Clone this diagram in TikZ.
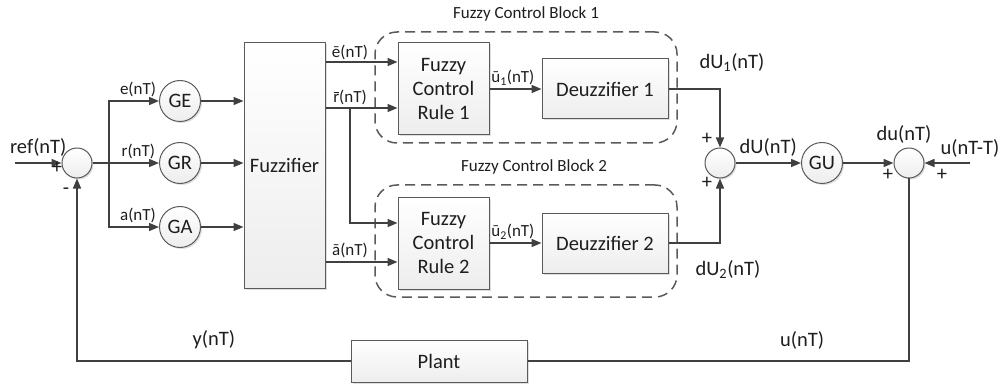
\documentclass[tikz,border=0pt]{standalone}
\usepackage{fontspec}
\setmainfont{Carlito}
\usetikzlibrary{arrows.meta,positioning,calc,shadows}
\definecolor{linegray}{HTML}{404040}
\definecolor{boxgray}{HTML}{5A5A5A}
\definecolor{txtgray}{HTML}{1E1E1E}
\newcommand{\bigtxt}{\fontsize{20.5}{24}\selectfont}
\newcommand{\smalltxt}{\fontsize{17}{20}\selectfont}
\newcommand{\rbar}{\makebox[0pt][l]{\hspace{0.04em}\rule[0.6em]{0.3em}{0.055em}}r}

\begin{document}
\begin{tikzpicture}[x=1pt,y=-1pt,>={Triangle[length=10pt,width=8pt]},
  wire/.style={draw=linegray,line width=1.5pt},
  blk/.style={draw=boxgray,line width=1pt,top color=white,bottom color=gray!14,
    drop shadow={shadow xshift=1.5pt,shadow yshift=-1.5pt,opacity=.25},
    font=\bigtxt,text=txtgray,align=center,inner sep=0pt},
  gain/.style={blk,circle,minimum size=41pt},
  sumnode/.style={blk,circle,minimum size=30pt},
  blockframe/.style={draw=boxgray,line width=1.5pt,dash pattern=on 10pt off 6pt,rounded corners=22pt},
  lbl/.style={font=\bigtxt,text=txtgray,inner sep=1pt},
  slbl/.style={font=\smalltxt,text=txtgray,inner sep=1pt},
  sgn/.style={font=\bigtxt,text=txtgray,inner sep=0pt}]
\useasboundingbox (0,0) rectangle (1007,385);

\node[blockframe,minimum width=302pt,minimum height=111pt] (blk1) at (526,87.5) {};
\node[blockframe,minimum width=302pt,minimum height=112pt] (blk2) at (526,241) {};
\node[slbl,above=9pt of blk1] (tit1) {Fuzzy Control Block 1};
\node[slbl,above=9pt of blk2,xshift=8pt] (tit2) {Fuzzy Control Block 2};

\node[sumnode] (sum1) at (77,163) {};
\node[gain] (GE) at (180,101) {GE};
\node[gain] (GR) at (180,163) {GR};
\node[gain] (GA) at (180,227) {GA};
\node[blk,minimum width=81pt,minimum height=245pt] (fuzz) at (284.5,165.5) {Fuzzifier};
\node[blk,minimum width=91pt,minimum height=92pt] (rule1) at (443.5,89) {Fuzzy\\Control\\Rule 1};
\node[blk,minimum width=91pt,minimum height=92pt] (rule2) at (443.5,243) {Fuzzy\\Control\\Rule 2};
\node[blk,minimum width=126pt,minimum height=60pt] (deuz1) at (605,89) {Deuzzifier 1};
\node[blk,minimum width=126pt,minimum height=60pt] (deuz2) at (605,243) {Deuzzifier 2};
\node[sumnode] (sum3) at (720,163) {};
\node[gain] (GU) at (822,163) {GU};
\node[sumnode] (sum4) at (909,163) {};
\node[blk,minimum width=176pt,minimum height=42pt] (plant) at (439,361) {Plant};

\coordinate (refin) at (15,163);
\coordinate (uin) at (970,163);
\coordinate (br) at (109,163);
\coordinate (ein) at ([yshift=27pt]rule1.west);
\coordinate (rin) at ([yshift=-19pt]rule1.west);
\coordinate (rin2) at ([yshift=20pt]rule2.west);
\coordinate (ain) at ([yshift=-19pt]rule2.west);
\coordinate (rsplit) at ($(fuzz.east |- rin)!0.34!(rin)$);

\draw[wire,->] (refin) -- node[lbl,above=5pt] (lref) {ref(nT)} (sum1);
\draw[wire,->] (br) |- node[slbl,pos=0.79,above=2pt] (le) {e(nT)} (GE);
\draw[wire,->] (sum1) -- node[slbl,pos=0.69,above=2pt] (lr) {r(nT)} (GR);
\draw[wire,->] (br) |- node[slbl,pos=0.79,above=2pt] (la) {a(nT)} (GA);
\foreach \g in {GE,GR,GA}
  \draw[wire,->] (\g) -- (\g -| fuzz.west);

\draw[wire,->] (fuzz.east |- ein) -- node[slbl,pos=0.34,above=0pt] (lebar) {ē(nT)} (ein);
\draw[wire,->] (fuzz.east |- rin) -- node[slbl,pos=0.34,above=1pt] (lrbar) {\rbar(nT)} (rin);
\draw[wire,->] (rsplit) |- (rin2);
\draw[wire,->] (fuzz.east |- ain) -- node[slbl,pos=0.34,above=2pt] (labar) {ā(nT)} (ain);

\draw[wire,->] (rule1) -- node[slbl,pos=0.45,above=2pt] (lu1) {ū\textsubscript{1}(nT)} (deuz1);
\draw[wire,->] (rule2) -- node[slbl,pos=0.45,above=2pt] (lu2) {ū\textsubscript{2}(nT)} (deuz2);

\draw[wire,->] (deuz1) -| node[lbl,pos=0.5,anchor=south,xshift=12pt,yshift=16pt] (ldu1) {dU\textsubscript{1}(nT)} (sum3);
\draw[wire,->] (deuz2) -| node[lbl,pos=0.5,anchor=north,xshift=8pt,yshift=-16pt] (ldu2) {dU\textsubscript{2}(nT)} (sum3);
\draw[wire,->] (sum3) -- node[lbl,above=5pt] (ldu) {dU(nT)} (GU);
\draw[wire,->] (GU) -- (sum4);
\draw[wire,->] (uin) -- node[lbl,at start,above=4pt] (luold) {u(nT-T)} (sum4);
\node[lbl] (ldusmall) at ([xshift=-5pt,yshift=29pt]sum4) {du(nT)};

\draw[wire] (sum4) |- node[lbl,pos=0.64,above=10pt] (lu) {u(nT)} (plant);
\draw[wire,->] (plant) -| node[lbl,pos=0.25,above=10pt] (ly) {y(nT)} (sum1);

\node[sgn] (p1) at ([xshift=-20pt,yshift=-5pt]sum1) {+};
\node[sgn] (m1) at ([xshift=-11pt,yshift=-28pt]sum1) {-};
\node[sgn] (p3a) at ([xshift=-13pt,yshift=24pt]sum3) {+};
\node[sgn] (p3b) at ([xshift=-13pt,yshift=-20pt]sum3) {+};
\node[sgn] (p4a) at ([xshift=-21pt,yshift=-12pt]sum4) {+};
\node[sgn] (p4b) at ([xshift=33pt,yshift=-12pt]sum4) {+};
\end{tikzpicture}
\end{document}
